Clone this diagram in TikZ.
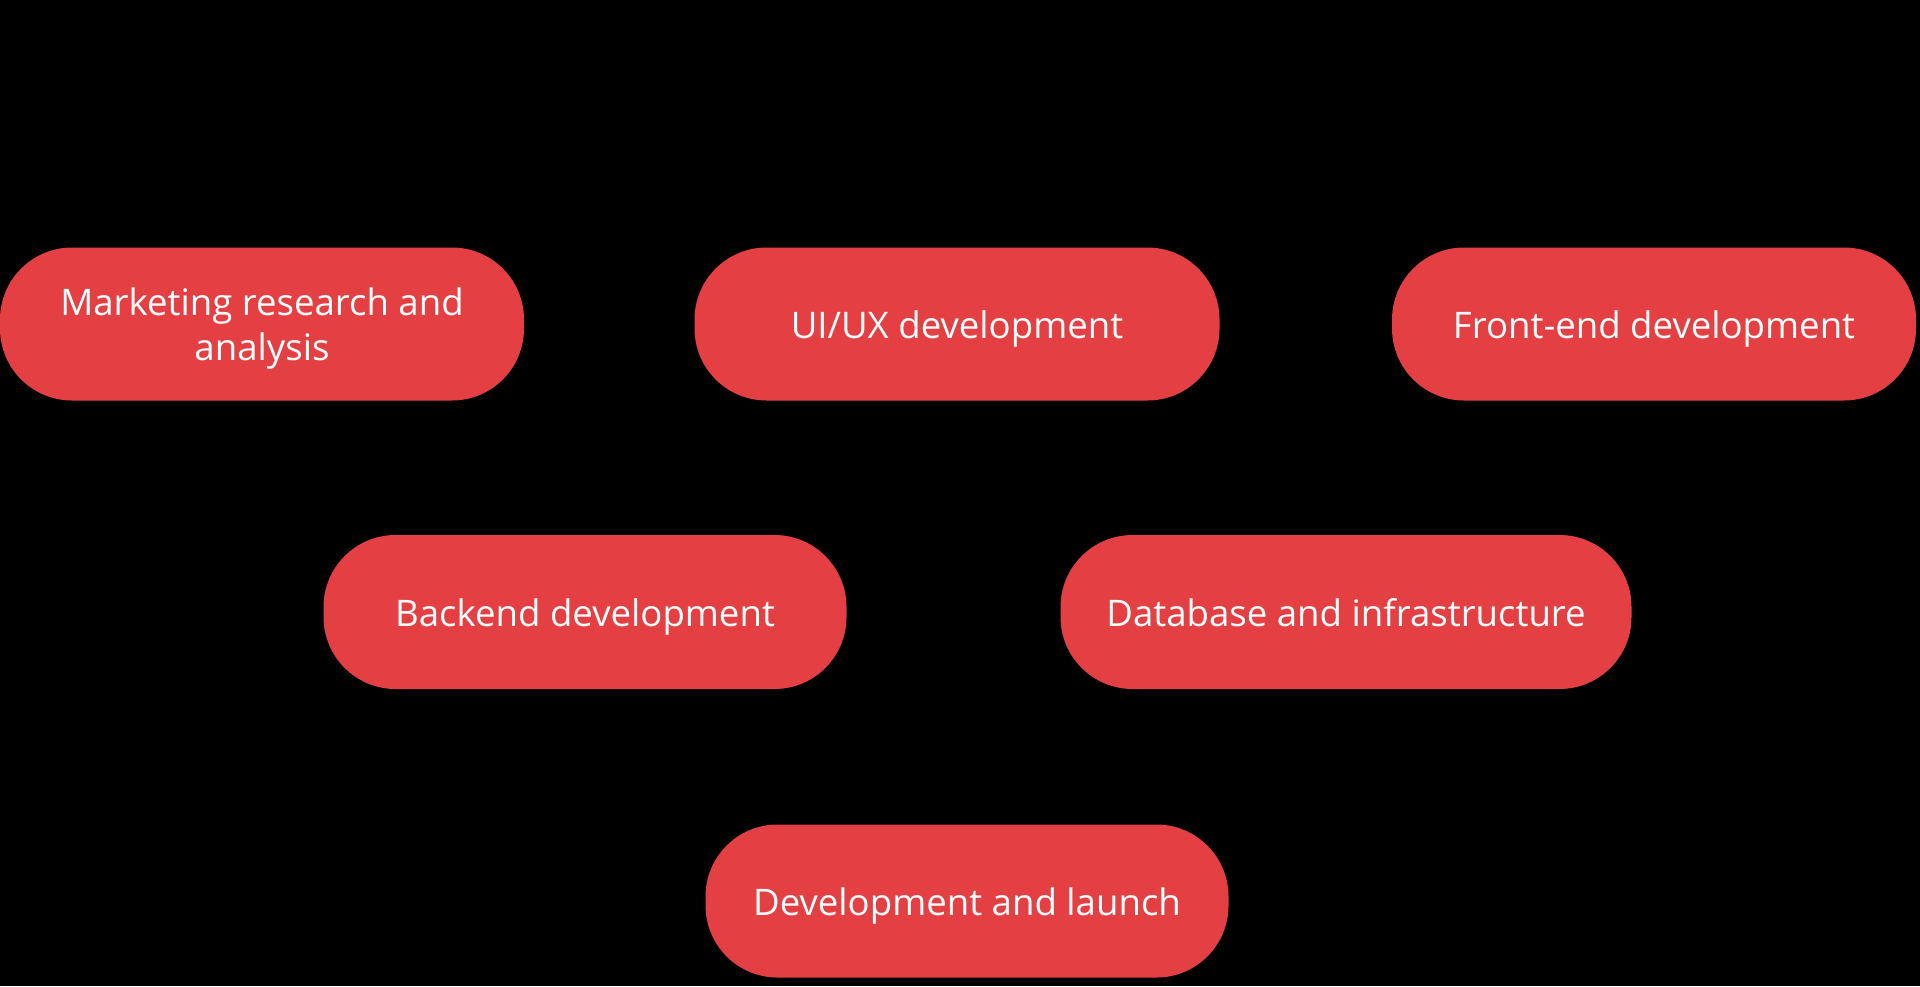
\documentclass[tikz,border=0pt]{standalone}
\usepackage{fontspec}
\setmainfont{Open Sans}
\usetikzlibrary{arrows.meta}
\definecolor{pillred}{HTML}{E44044}
\begin{document}
\begin{tikzpicture}[x=0.5pt,y=-0.5pt,
  pill/.style={fill=pillred, draw=none, rounded corners=36pt, text=white,
    minimum height=76.5pt, align=center, inner sep=0pt,
    text height=16pt, text depth=1.5pt,
    font=\fontsize{18.3}{22.5}\selectfont},
  link/.style={draw=black, line width=1.5pt, -{Stealth[length=8pt]}}]
\fill[black] (0,0) rectangle (1920,986);
\useasboundingbox (0,0) rectangle (1920,986);
\node[pill, minimum width=262pt, text height=38pt] (mkt) at (262,324) {Marketing research and\\analysis};
\node[pill, minimum width=262.5pt] (uiux) at (957,324) {UI/UX development};
\node[pill, minimum width=262pt] (front) at (1654,324) {Front-end development};
\node[pill, minimum width=261.5pt, minimum height=77pt] (back) at (585,612) {Backend development};
\node[pill, minimum width=285.5pt, minimum height=77pt] (db) at (1346,612) {Database and infrastructure};
\node[pill, minimum width=261.5pt] (dev) at (967,901) {Development and launch};
\draw[link] (mkt.east) -- (uiux.west);
\draw[link] (uiux.east) -- (front.west);
\end{tikzpicture}
\end{document}
